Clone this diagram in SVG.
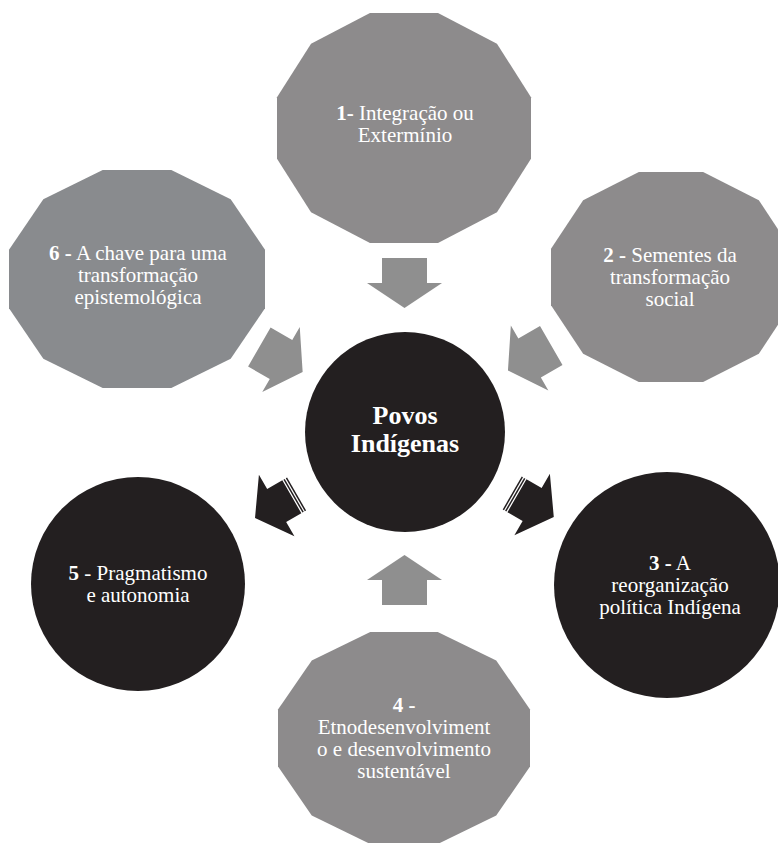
<svg xmlns="http://www.w3.org/2000/svg" xmlns:xlink="http://www.w3.org/1999/xlink" width="778" height="843" viewBox="0 0 778 843">
<style>
.gray{fill:#8d8b8c}
.gray2{fill:#898b8e}
.dark{fill:#231f20}
.arrg{fill:#8f8f8f}
.t{font-family:"Liberation Serif","Times New Roman",serif;font-size:21px;fill:#ffffff;text-anchor:middle}
.c{font-family:"Liberation Serif","Times New Roman",serif;font-size:26px;font-weight:bold;fill:#ffffff;text-anchor:middle}
.b{font-weight:bold}
</style>
<defs>
<polygon id="dodeca" points="1,0.26795 0.73205,0.73205 0.26795,1 -0.26795,1 -0.73205,0.73205 -1,0.26795 -1,-0.26795 -0.73205,-0.73205 -0.26795,-1 0.26795,-1 0.73205,-0.73205 1,-0.26795"/>
<polygon id="arr" points="-25,-22.5 0,-22.5 0,-37.5 25,0 0,37.5 0,22.5 -25,22.5"/>
<g id="sarr">
<polygon points="-18.5,-19 -1,-19 -1,-35.5 24,0 -1,35.5 -1,19 -18.5,19"/>
<rect x="-24" y="-19" width="1.5" height="38"/>
<rect x="-21.3" y="-19" width="1.5" height="38"/>
</g>
</defs>
<rect width="778" height="843" fill="#ffffff"/>

<g id="connectors">
<use xlink:href="#arr" class="arrg" transform="translate(404.5,283) rotate(90)"/>
<use xlink:href="#arr" class="arrg" transform="translate(529.6,358) rotate(150)"/>
<use xlink:href="#arr" class="arrg" transform="translate(281,359.5) rotate(30)"/>
<use xlink:href="#arr" class="arrg" transform="translate(404.5,580) rotate(-90)"/>
<use xlink:href="#sarr" class="dark" transform="translate(275.8,506) rotate(150)"/>
<use xlink:href="#sarr" class="dark" transform="translate(533,505) rotate(30)"/>
</g>

<g id="center">
<circle cx="405" cy="432" r="100" class="dark"/>
<text class="c" x="405" y="424">Povos</text>
<text class="c" x="405" y="452">Indígenas</text>
</g>

<g id="node1">
<use xlink:href="#dodeca" class="gray" transform="translate(404,128) scale(127,115)"/>
<text class="t" x="405" y="120"><tspan class="b">1-</tspan> Integração ou</text>
<text class="t" x="405" y="141.7">Extermínio</text>
</g>

<g id="node2">
<use xlink:href="#dodeca" class="gray" transform="translate(671,277) scale(120,105)"/>
<text class="t" x="670" y="261.7"><tspan class="b">2 -</tspan> Sementes da</text>
<text class="t" x="670" y="283.6">transformação</text>
<text class="t" x="670" y="305.5">social</text>
</g>

<g id="node3">
<circle cx="667" cy="585" r="113" class="dark"/>
<text class="t" x="670" y="569.5"><tspan class="b">3 -</tspan> A</text>
<text class="t" x="670" y="591.5">reorganização</text>
<text class="t" x="670" y="613.5">política Indígena</text>
</g>

<g id="node4">
<use xlink:href="#dodeca" class="gray" transform="translate(404,738) scale(126,106)"/>
<text class="t" x="404" y="711.5"><tspan class="b">4 -</tspan></text>
<text class="t" x="404" y="733.8">Etnodesenvolviment</text>
<text class="t" x="404" y="756.2">o e desenvolvimento</text>
<text class="t" x="404" y="778.4">sustentável</text>
</g>

<g id="node5">
<circle cx="138" cy="584" r="107" class="dark"/>
<text class="t" x="138" y="580"><tspan class="b">5</tspan> - Pragmatismo</text>
<text class="t" x="138" y="601.7">e autonomia</text>
</g>

<g id="node6">
<use xlink:href="#dodeca" class="gray2" transform="translate(137,279) scale(128,109)"/>
<text class="t" x="138" y="260"><tspan class="b">6 -</tspan> A chave para uma</text>
<text class="t" x="138" y="281.8">transformação</text>
<text class="t" x="138" y="303.6">epistemológica</text>
</g>
</svg>
